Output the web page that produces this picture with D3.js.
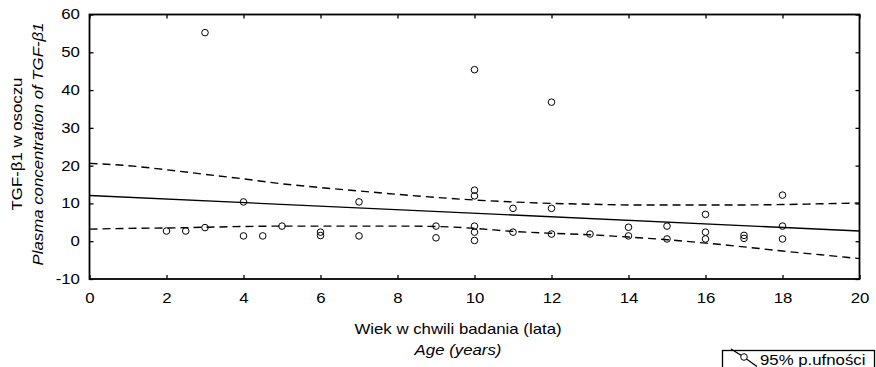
<!DOCTYPE html>
<html lang="pl">
  <head>
    <meta charset="utf-8">
    <title>TGF-β1 vs wiek</title>
    <script src="https://cdnjs.cloudflare.com/ajax/libs/d3/7.8.5/d3.min.js"></script>
    <style>
      body { margin: 0; background: #fff; }
      svg text { font-family: "Liberation Sans", Arial, sans-serif; font-size: 14px; fill: #000; }
    </style>
  </head>
  <body>
    <div class="chart"></div>
    <script>
      // observed points: age (years) and plasma TGF-beta1
      var ages = [2, 2.5, 3, 3, 4, 4, 4.5, 5, 6, 6, 7, 7, 9, 9,
                  10, 10, 10, 10, 10, 10, 11, 11, 12, 12, 12, 13,
                  14, 14, 15, 15, 16, 16, 16, 17, 17, 18, 18, 18];
      var tgf = [2.7, 2.7, 55.2, 3.6, 10.4, 1.4, 1.4, 4.0, 2.4, 1.5, 10.4, 1.4, 4.0, 0.9,
                 45.4, 13.5, 12.0, 4.0, 2.4, 0.2, 8.7, 2.4, 36.8, 8.7, 1.9, 1.9,
                 3.7, 1.4, 4.0, 0.6, 7.1, 2.4, 0.6, 1.55, 0.75, 12.2, 4.0, 0.6];

      // fitted line and 95% confidence band
      var fitX = [0, 20];
      var fitY = [12.1, 2.7];
      var bandX = d3.range(0, 21);
      var bandUpper = [20.6, 20.0, 18.9, 17.7, 16.5, 15.2, 14.2, 13.3, 12.4, 11.6, 10.9,
                       10.4, 10.0, 9.8, 9.6, 9.6, 9.6, 9.6, 9.7, 9.9, 10.1];
      var bandLower = [3.2, 3.4, 3.5, 3.7, 3.9, 4.0, 4.0, 4.0, 4.0, 3.9, 3.4,
                       2.6, 2.1, 1.7, 1.1, 0.4, -0.5, -1.5, -2.6, -3.6, -4.6];

      var xTicks = d3.range(0, 21, 2);
      var yTicks = d3.range(-10, 61, 10);

      var svgWidth = 876;
      var svgHeight = 367;
      var margin = { top: 14.5, right: 16.5, bottom: 88, left: 89.5 };
      var width = svgWidth - margin.left - margin.right;
      var height = svgHeight - margin.top - margin.bottom;
      var stretch = "scale(1.2,1)";

      var svg = d3.select(".chart").append("svg")
        .attr("width", svgWidth)
        .attr("height", svgHeight);

      var chartGroup = svg.append("g")
        .attr("transform", `translate(${margin.left}, ${margin.top})`);

      var x = d3.scaleLinear().domain([0, 20]).range([0, width]);
      var y = d3.scaleLinear().domain([-10, 60]).range([height, 0]);

      // axes, ticks pointing inward on all four sides
      var bottomAxis = chartGroup.append("g")
        .attr("transform", `translate(0, ${height})`)
        .call(d3.axisBottom(x).tickValues(xTicks).tickSizeInner(-4).tickSizeOuter(0)
          .tickPadding(14.5).tickFormat(d => String(d)));
      var leftAxis = chartGroup.append("g")
        .call(d3.axisLeft(y).tickValues(yTicks).tickSizeInner(-4).tickSizeOuter(0)
          .tickPadding(8).tickFormat(d => String(d)));
      chartGroup.append("g")
        .call(d3.axisTop(x).tickValues(xTicks).tickSizeInner(-4).tickSizeOuter(0).tickFormat(""));
      chartGroup.append("g")
        .attr("transform", `translate(${width}, 0)`)
        .call(d3.axisRight(y).tickValues(yTicks).tickSizeInner(-4).tickSizeOuter(0).tickFormat(""));

      chartGroup.selectAll(".domain").remove();
      chartGroup.selectAll(".tick line").attr("stroke", "#000").attr("stroke-width", 1.3);
      chartGroup.selectAll(".tick text").attr("transform", stretch);
      bottomAxis.attr("font-size", null).attr("font-family", null);
      leftAxis.attr("font-size", null).attr("font-family", null);

      chartGroup.append("rect")
        .attr("width", width).attr("height", height)
        .attr("fill", "none").attr("stroke", "#000").attr("stroke-width", 1.8);

      // confidence band
      var bandLine = d3.line().x(d => x(d[0])).y(d => y(d[1])).curve(d3.curveMonotoneX);
      [bandUpper, bandLower].forEach(function (vals) {
        chartGroup.append("path")
          .datum(bandX.map((v, i) => [v, vals[i]]))
          .attr("d", bandLine)
          .attr("fill", "none").attr("stroke", "#000")
          .attr("stroke-width", 1.4).attr("stroke-dasharray", "8,5");
      });

      // regression line
      chartGroup.append("path")
        .datum(fitX.map((v, i) => [v, fitY[i]]))
        .attr("d", d3.line().x(d => x(d[0])).y(d => y(d[1])))
        .attr("fill", "none").attr("stroke", "#000").attr("stroke-width", 1.4);

      // points
      chartGroup.selectAll("circle.pt")
        .data(ages.map((a, i) => ({ age: a, val: tgf[i] })))
        .enter().append("circle")
        .attr("class", "pt")
        .attr("cx", d => x(d.age))
        .attr("cy", d => y(d.val))
        .attr("r", 3.3)
        .attr("fill", "none").attr("stroke", "#000").attr("stroke-width", 1);

      // axis titles
      var yTitle = svg.append("g").attr("transform", "translate(21.5, 144) rotate(-90)");
      yTitle.append("text").attr("text-anchor", "middle").attr("transform", stretch)
        .text("TGF-β1 w osoczu");
      yTitle.append("text").attr("text-anchor", "middle").attr("y", 21.5).attr("transform", stretch)
        .style("font-style", "italic")
        .text("Plasma concentration of TGF-β1");

      var xTitle = svg.append("g").attr("transform", "translate(458, 334)");
      xTitle.append("text").attr("text-anchor", "middle").attr("transform", stretch)
        .text("Wiek w chwili badania (lata)");
      xTitle.append("text").attr("text-anchor", "middle").attr("y", 21.5).attr("transform", stretch)
        .style("font-style", "italic")
        .text("Age (years)");

      // legend
      var legend = svg.append("g");
      legend.append("rect")
        .attr("x", 722.5).attr("y", 350.5).attr("width", 152).attr("height", 30)
        .attr("fill", "#fff").attr("stroke", "#000").attr("stroke-width", 1.3);
      legend.append("path")
        .attr("d", "M731,349L743,356.5L757,366.5")
        .attr("fill", "none").attr("stroke", "#000").attr("stroke-width", 1.3);
      legend.append("circle")
        .attr("cx", 744).attr("cy", 357).attr("r", 3.3)
        .attr("fill", "#fff").attr("stroke", "#000");
      legend.append("g").attr("transform", "translate(760, 365)")
        .append("text").attr("transform", stretch).text("95% p.ufności");
    </script>
  </body>
</html>
